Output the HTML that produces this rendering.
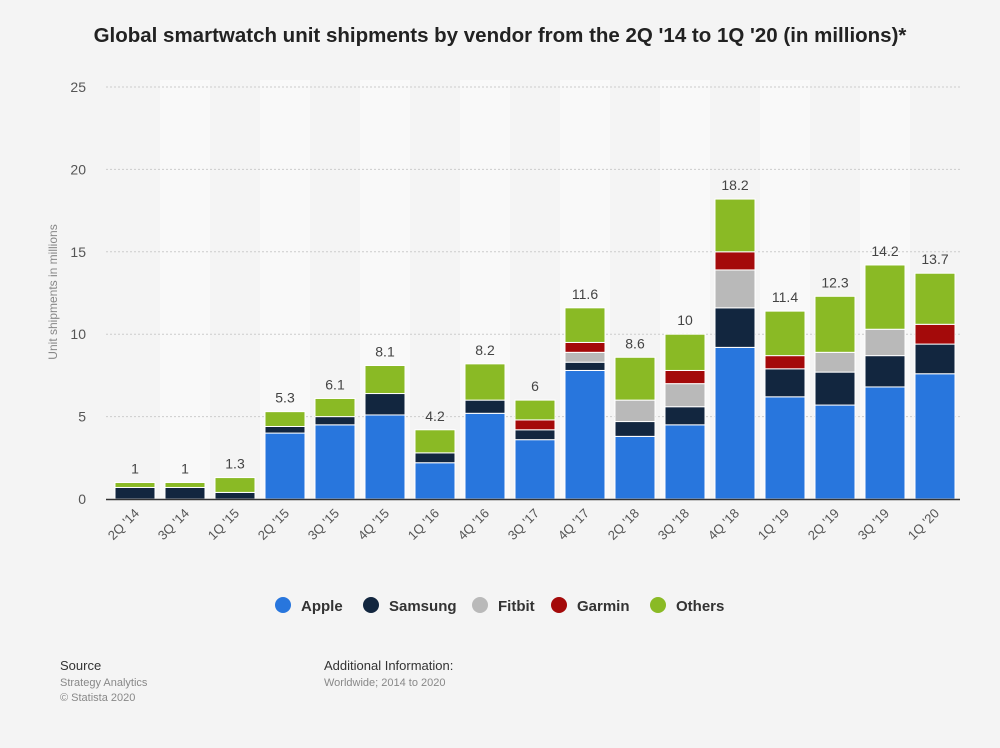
<!DOCTYPE html>
<html><head><meta charset="utf-8"><style>
body{margin:0;background:#f4f4f4;font-family:"Liberation Sans",sans-serif;}
#wrap{position:relative;width:1000px;height:743px;}
</style></head><body>
<div id="wrap">
<svg id="svg" width="1000" height="743" xmlns="http://www.w3.org/2000/svg">
<text x="500" y="42" text-anchor="middle" font-size="20.5" font-weight="bold" fill="#222">Global smartwatch unit shipments by vendor from the 2Q '14 to 1Q '20 (in millions)*</text>
<text transform="translate(57,292) rotate(-90)" text-anchor="middle" font-size="12" fill="#888">Unit shipments in millions</text>
<g id="g"></g>
<text x="60" y="670" font-size="13" fill="#333">Source</text>
<text x="60" y="686" font-size="11" fill="#888">Strategy Analytics</text>
<text x="60" y="701" font-size="11" fill="#888">© Statista 2020</text>
<text x="324" y="670" font-size="13" fill="#333">Additional Information:</text>
<text x="324" y="686" font-size="11" fill="#888">Worldwide; 2014 to 2020</text>
</svg>
</div>
<script>
const categories=["2Q '14","3Q '14","1Q '15","2Q '15","3Q '15","4Q '15","1Q '16","4Q '16","3Q '17","4Q '17","2Q '18","3Q '18","4Q '18","1Q '19","2Q '19","3Q '19","1Q '20"];
const apple=[0,0,0,4.0,4.5,5.1,2.2,5.2,3.6,7.8,3.8,4.5,9.2,6.2,5.7,6.8,7.6];
const samsung=[0.7,0.7,0.4,0.4,0.5,1.3,0.6,0.8,0.6,0.5,0.9,1.1,2.4,1.7,2.0,1.9,1.8];
const fitbit=[0,0,0,0,0,0,0,0,0,0.6,1.3,1.4,2.3,0,1.2,1.6,0];
const garmin=[0,0,0,0,0,0,0,0,0.6,0.6,0,0.8,1.1,0.8,0,0,1.2];
const others=[0.3,0.3,0.9,0.9,1.1,1.7,1.4,2.2,1.2,2.1,2.6,2.2,3.2,2.7,3.4,3.9,3.1];
const totals=["1","1","1.3","5.3","6.1","8.1","4.2","8.2","6","11.6","8.6","10","18.2","11.4","12.3","14.2","13.7"];
const yTicks=[0,5,10,15,20,25];
const seriesNames=["Apple","Samsung","Fitbit","Garmin","Others"];
const colors=["#2876dd","#12263f","#b9b9b9","#a40a0a","#8aba25"];
const series=[apple,samsung,fitbit,garmin,others];
const NS="http://www.w3.org/2000/svg";
const g=document.getElementById('g');
const X0=110,BAND=50,Y0=499,YMAX=25,YPX=412;
const y=v=>Y0-v/YMAX*YPX;
const xc=i=>X0+BAND*(i+0.5);
function mk(t,a){const e=document.createElementNS(NS,t);for(const k in a)e.setAttribute(k,a[k]);g.appendChild(e);return e;}
categories.forEach((c,i)=>{if(i%2===1){const r=mk('rect',{x:X0+BAND*i,y:80,width:BAND,height:Y0-80,fill:'#f9f9f9'});

}});
yTicks.forEach(t=>{
 if(t>0){const l=mk('line',{x1:106,x2:960,y1:y(t),y2:y(t),stroke:'#ccc','stroke-dasharray':'2,2'});
 
 }
 const tx=mk('text',{x:86,y:y(t)+5,'text-anchor':'end','font-size':14,fill:'#555'});tx.textContent=t;
 
 
});
categories.forEach((c,i)=>{
 let acc=0;
 series.forEach((s,k)=>{
  const v=s[i]; if(v<=0)return;
  const r=mk('rect',{x:xc(i)-20,y:y(acc+v),width:40,height:y(acc)-y(acc+v),fill:colors[k],stroke:'#fff','stroke-width':1});
  
  
  acc+=v;
 });
 const t=mk('text',{x:xc(i),y:y(acc)-9,'text-anchor':'middle','font-size':14,fill:'#444'});t.textContent=totals[i];
 
 
 const xl=mk('text',{transform:`translate(${xc(i)+5},${514}) rotate(-45)`,'text-anchor':'end','font-size':13,fill:'#555'});xl.textContent=c;
 
 
});
const ax=mk('line',{x1:106,x2:960,y1:Y0+0.5,y2:Y0+0.5,stroke:'#333','stroke-width':1.5});


const lx=[274,362,471,550,649];
seriesNames.forEach((n,k)=>{
 const c=mk('circle',{cx:lx[k]+9,cy:605,r:8,fill:colors[k]});
 
 
 const t=mk('text',{x:lx[k]+27,y:611,'font-size':15,'font-weight':'bold',fill:'#333'});t.textContent=n;
 
 
});
</script>
</body></html>
